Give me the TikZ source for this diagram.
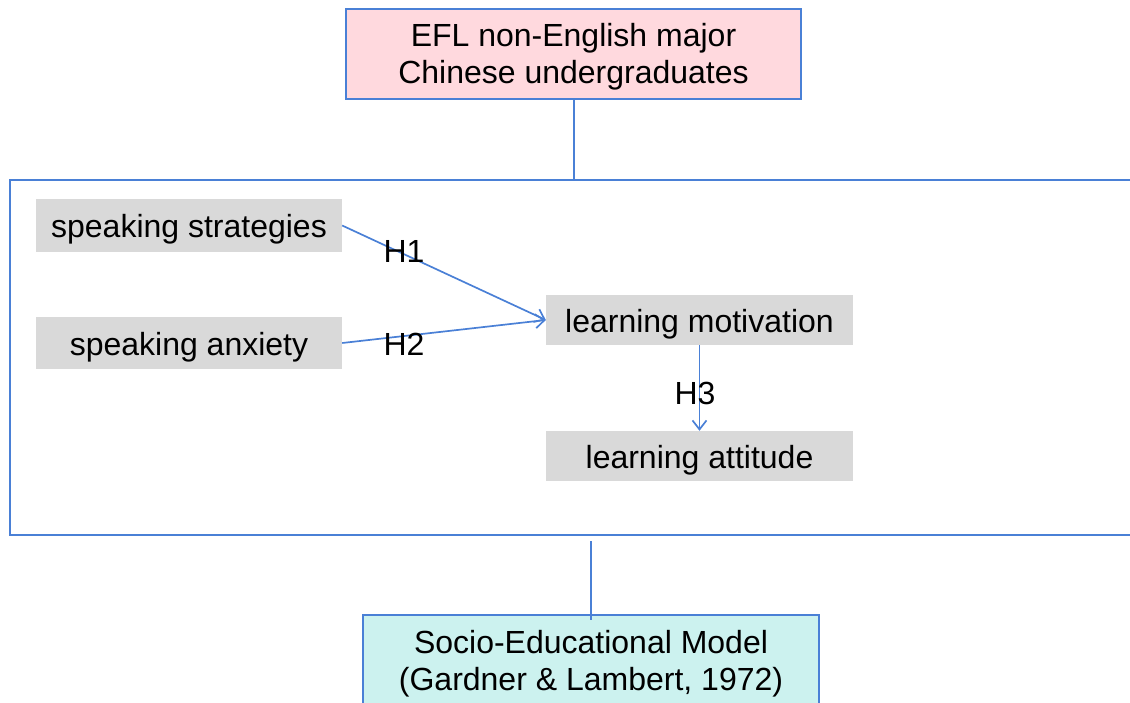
\documentclass[tikz,border=0pt]{standalone}
\usepackage{fontspec}
\setmainfont{Liberation Sans}
\usetikzlibrary{arrows.meta}
\definecolor{edgeblue}{RGB}{74,128,214}
\definecolor{pinkfill}{RGB}{255,217,222}
\definecolor{cyanfill}{RGB}{204,242,239}
\definecolor{greyfill}{RGB}{217,217,217}
\begin{document}
\begin{tikzpicture}[x=1pt,y=-1pt,
  every node/.style={font=\fontsize{32}{37}\selectfont, inner sep=0pt},
  titlebox/.style={draw=edgeblue, line width=2pt, align=center, text depth=0pt},
  factor/.style={fill=greyfill, minimum width=306pt, text height=24pt, text depth=0pt},
  link/.style={draw=edgeblue, line width=2pt},
  path/.style={draw=edgeblue, line width=1.7pt, -{Straight Barb[length=9pt,width=14pt,line width=1.7pt]}},
  hyp/.style={anchor=base}]
  \useasboundingbox (0,0) rectangle (1130,702);
  \clip (0,0) rectangle (1130,702);

  % population and theory boxes
  \node[titlebox, fill=pinkfill, minimum width=455pt, minimum height=90pt, text height=58pt]
    (pop) at (573.5,54) {EFL non-English major\\Chinese undergraduates};
  \node[titlebox, fill=cyanfill, minimum width=456pt, minimum height=94pt, text height=56pt, anchor=north]
    (theory) at (591,614) {Socio-Educational Model\\(Gardner \& Lambert, 1972)};

  % frame around the research model
  \node[draw=edgeblue, line width=2pt, minimum width=1131pt, minimum height=355pt, anchor=north west]
    (frame) at (9,179) {};

  % variables
  \node[factor, minimum height=53pt] (strat) at (189,225.5) {speaking strategies};
  \node[factor, minimum height=52pt] (anx) at (189,343) {speaking anxiety};
  \node[factor, minimum width=307pt, minimum height=50pt] (motiv) at (699.5,320) {learning motivation};
  \node[factor, minimum width=307pt, minimum height=50pt] (att) at (699.5,456) {learning attitude};

  % connectors
  \draw[link] (pop.south) -- (pop.south |- frame.north);
  \coordinate (tail) at (591,541);
  \draw[link] (tail) -- ([yshift=-6pt]theory.north);

  \draw[path] (strat.east) -- (motiv.west);
  \draw[path] (anx.east) -- (motiv.west);
  \draw[path] (motiv.south) -- (att.north);

  % hypothesis labels
  \node[hyp] (h1) at (404,262) {H1};
  \node[hyp] (h2) at (404,355) {H2};
  \node[hyp] (h3) at (695,404) {H3};
\end{tikzpicture}
\end{document}
